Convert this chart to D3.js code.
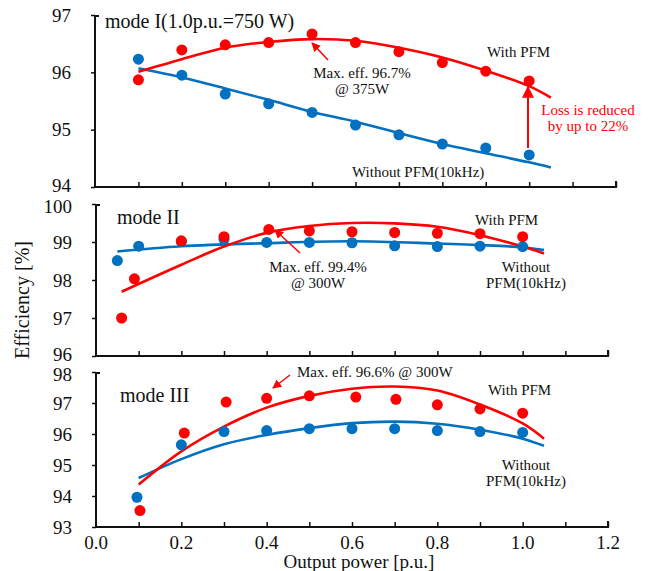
<!DOCTYPE html>
<html>
<head>
<meta charset="utf-8">
<script src="https://unpkg.com/d3@7/dist/d3.min.js"></script>
<style>
  body { margin: 0; background: #fff; }
  svg text { font-family: "Liberation Serif", "Times New Roman", serif; fill: #111; }
</style>
</head>
<body>
<div id="chart"></div>
<script>
// measured points
const mode1X = [0.1, 0.2, 0.3, 0.4, 0.5, 0.6, 0.7, 0.8, 0.9, 1.0];
const mode1Pfm = [95.87, 96.39, 96.48, 96.52, 96.67, 96.52, 96.36, 96.17, 96.02, 95.85];
const mode1NoPfm = [96.23, 95.95, 95.62, 95.45, 95.30, 95.08, 94.91, 94.75, 94.68, 94.56];

const mode2PfmX = [0.06, 0.09, 0.2, 0.3, 0.405, 0.5, 0.6, 0.7, 0.8, 0.9, 1.0];
const mode2Pfm = [97.0, 98.03, 99.03, 99.14, 99.33, 99.29, 99.27, 99.25, 99.23, 99.22, 99.14];
const mode2NoPfmX = [0.05, 0.1, 0.2, 0.3, 0.4, 0.5, 0.6, 0.7, 0.8, 0.9, 1.0];
const mode2NoPfm = [98.51, 98.89, 99.01, 99.07, 98.99, 98.99, 98.98, 98.90, 98.88, 98.89, 98.88];

const mode3PfmX = [0.103, 0.207, 0.305, 0.4, 0.5, 0.609, 0.703, 0.8, 0.9, 1.0];
const mode3Pfm = [93.53, 96.03, 97.03, 97.15, 97.23, 97.19, 97.12, 96.94, 96.81, 96.67];
const mode3NoPfmX = [0.096, 0.2, 0.3, 0.4, 0.5, 0.6, 0.7, 0.8, 0.9, 1.0];
const mode3NoPfm = [93.96, 95.65, 96.08, 96.11, 96.17, 96.17, 96.17, 96.11, 96.08, 96.05];

// trend lines
const fitX = [0.1, 0.2, 0.3, 0.4, 0.5, 0.6, 0.7, 0.8, 0.9, 1.0, 1.05];
const mode1PfmFit = [96.01, 96.23, 96.43, 96.53, 96.58, 96.55, 96.43, 96.26, 96.03, 95.76, 95.56];
const mode1NoPfmFit = [96.07, 95.91, 95.72, 95.52, 95.31, 95.14, 94.94, 94.75, 94.59, 94.43, 94.34];

const mode2FitX = [0.06, 0.2, 0.3, 0.4, 0.5, 0.6, 0.7, 0.8, 0.9, 1.0, 1.05];
const mode2PfmFit = [97.69, 98.40, 98.88, 99.24, 99.42, 99.50, 99.49, 99.40, 99.18, 98.88, 98.70];
const mode2NoFitX = [0.05, 0.2, 0.4, 0.6, 0.8, 0.9, 1.0, 1.05];
const mode2NoPfmFit = [98.75, 98.89, 98.97, 99.02, 98.96, 98.92, 98.86, 98.79];

const mode3PfmFit = [94.37, 95.44, 96.24, 96.85, 97.23, 97.46, 97.53, 97.40, 96.95, 96.34, 95.85];
const mode3NoPfmFit = [94.58, 95.19, 95.67, 95.97, 96.19, 96.35, 96.40, 96.33, 96.14, 95.85, 95.62];

const xTickLabels = [0.0, 0.2, 0.4, 0.6, 0.8, 1.0, 1.2];
const minorTicks = [0.1, 0.2, 0.3, 0.4, 0.5, 0.6, 0.7, 0.8, 0.9, 1.0, 1.1, 1.2];
const mode1Ticks = [94, 95, 96, 97];
const mode2Ticks = [96, 97, 98, 99, 100];
const mode3Ticks = [93, 94, 95, 96, 97, 98];

const red = "#ff0000";
const blue = "#0070c0";

const width = 651, height = 571;
const svg = d3.select("#chart").append("svg")
  .attr("width", width)
  .attr("height", height);

const panels = [
  { xr: [95, 616], yd: [94, 97], yr: [187, 15], ticks: mode1Ticks,
    pfm: [mode1X, mode1Pfm], no: [mode1X, mode1NoPfm],
    pfmFit: [fitX, mode1PfmFit], noFit: [fitX, mode1NoPfmFit] },
  { xr: [96, 608], yd: [96, 100], yr: [356, 204], ticks: mode2Ticks,
    pfm: [mode2PfmX, mode2Pfm], no: [mode2NoPfmX, mode2NoPfm],
    pfmFit: [mode2FitX, mode2PfmFit], noFit: [mode2NoFitX, mode2NoPfmFit] },
  { xr: [96, 608], yd: [93, 98], yr: [527, 372], ticks: mode3Ticks,
    pfm: [mode3PfmX, mode3Pfm], no: [mode3NoPfmX, mode3NoPfm],
    pfmFit: [fitX, mode3PfmFit], noFit: [fitX, mode3NoPfmFit] }
];

panels.forEach((p, i) => {
  const x = d3.scaleLinear().domain([0, 1.2]).range(p.xr);
  const y = d3.scaleLinear().domain(p.yd).range(p.yr);
  p.x = x; p.y = y;
  const g = svg.append("g");

  // y axis
  const yAxis = g.append("g")
    .attr("transform", `translate(${x(0)},0)`)
    .call(d3.axisLeft(y).tickValues(p.ticks).tickSize(4).tickFormat(d3.format("d")));
  yAxis.select(".domain").remove();
  yAxis.selectAll("line").attr("stroke", "#111").attr("stroke-width", 1.5);
  yAxis.selectAll("text").attr("x", -24).style("font-size", "19px")
    .attr("transform", d => {
      // keep stacked panel labels from running into each other
      if (d === p.yd[0] && i < 2) return "translate(0,-2)";
      if (d === p.yd[1] && i > 0) return "translate(0,2)";
      return null;
    });
  g.append("line")
    .attr("x1", x(0)).attr("x2", x(0))
    .attr("y1", y(p.yd[1])).attr("y2", y(p.yd[0]))
    .attr("stroke", "#111").attr("stroke-width", 2);
  g.append("line")
    .attr("x1", x(0)).attr("x2", x(0) + 4)
    .attr("y1", y(p.yd[1]) + 1).attr("y2", y(p.yd[1]) + 1)
    .attr("stroke", "#111").attr("stroke-width", 2);

  // x axis
  const xAxis = g.append("g")
    .attr("transform", `translate(0,${y(p.yd[0])})`)
    .call(d3.axisTop(x).tickValues(minorTicks).tickSize(5).tickFormat(""));
  xAxis.select(".domain").remove();
  xAxis.selectAll("line").attr("stroke", "#111").attr("stroke-width", 1.5);
  g.append("line")
    .attr("x1", x(0)).attr("x2", x(1.2))
    .attr("y1", y(p.yd[0])).attr("y2", y(p.yd[0]))
    .attr("stroke", "#111").attr("stroke-width", 2);
  g.append("line")
    .attr("x1", x(1.2)).attr("x2", x(1.2))
    .attr("y1", y(p.yd[0]) - 6).attr("y2", y(p.yd[0]) + 1)
    .attr("stroke", "#111").attr("stroke-width", 2);

  // trend lines
  const line = d3.line().curve(d3.curveCatmullRom.alpha(0.5))
    .x(d => x(d[0])).y(d => y(d[1]));
  g.append("path")
    .datum(d3.zip(p.noFit[0], p.noFit[1]))
    .attr("d", line).attr("fill", "none")
    .attr("stroke", blue).attr("stroke-width", 2.6);
  g.append("path")
    .datum(d3.zip(p.pfmFit[0], p.pfmFit[1]))
    .attr("d", line).attr("fill", "none")
    .attr("stroke", red).attr("stroke-width", 2.6);

  // dots
  g.selectAll(".no")
    .data(d3.zip(p.no[0], p.no[1]))
    .join("circle")
    .attr("cx", d => x(d[0])).attr("cy", d => y(d[1]))
    .attr("r", 5.5).attr("fill", blue);
  g.selectAll(".pfm")
    .data(d3.zip(p.pfm[0], p.pfm[1]))
    .join("circle")
    .attr("cx", d => x(d[0])).attr("cy", d => y(d[1]))
    .attr("r", 5.5).attr("fill", red);
});

// bottom x tick labels
const xb = panels[2].x;
svg.append("g").selectAll("text")
  .data(xTickLabels)
  .join("text")
  .attr("x", d => xb(d)).attr("y", 549)
  .attr("text-anchor", "middle")
  .style("font-size", "19px")
  .text(d => d.toFixed(1));

svg.append("text")
  .attr("x", 359).attr("y", 568)
  .attr("text-anchor", "middle")
  .style("font-size", "19px")
  .text("Output power [p.u.]");

svg.append("text")
  .attr("transform", "translate(29,300) rotate(-90)")
  .attr("text-anchor", "middle")
  .style("font-size", "20px")
  .text("Efficiency [%]");

// annotations
svg.append("defs").append("marker")
  .attr("id", "arr")
  .attr("viewBox", "0 0 10 10")
  .attr("refX", 9).attr("refY", 5)
  .attr("markerWidth", 6).attr("markerHeight", 6)
  .attr("orient", "auto")
  .append("path").attr("d", "M0,0L10,5L0,10z").attr("fill", red);

function label(x, y, txt, opts = {}) {
  svg.append("text")
    .attr("x", x).attr("y", y)
    .attr("text-anchor", opts.anchor || "start")
    .style("font-size", (opts.size || 15) + "px")
    .style("fill", opts.color || "#111")
    .text(txt);
}
function arrow(x1, y1, x2, y2, w) {
  svg.append("line")
    .attr("x1", x1).attr("y1", y1).attr("x2", x2).attr("y2", y2)
    .attr("stroke", red).attr("stroke-width", w || 1.5)
    .attr("marker-end", "url(#arr)");
}

label(105, 28, "mode I(1.0p.u.=750 W)", { size: 20 });
label(487, 57, "With PFM");
label(362, 78, "Max. eff. 96.7%", { anchor: "middle" });
label(362, 94, "@ 375W", { anchor: "middle" });
arrow(328, 60, 312, 43);
label(588, 115, "Loss is reduced", { anchor: "middle", color: red });
label(588, 131, "by up to 22%", { anchor: "middle", color: red });
arrow(528, 148, 528, 87, 2);
label(352, 177, "Without PFM(10kHz)");

label(117, 224, "mode II", { size: 20 });
label(475, 225, "With PFM");
label(318, 272, "Max. eff. 99.4%", { anchor: "middle" });
label(318, 288, "@ 300W", { anchor: "middle" });
arrow(300, 253, 275, 230);
label(526, 272, "Without", { anchor: "middle" });
label(526, 288, "PFM(10kHz)", { anchor: "middle" });

label(120, 402, "mode III", { size: 20 });
label(297, 377, "Max. eff. 96.6% @ 300W");
arrow(290, 375, 273, 388);
label(488, 395, "With PFM");
label(526, 470, "Without", { anchor: "middle" });
label(526, 486, "PFM(10kHz)", { anchor: "middle" });
</script>
</body>
</html>
